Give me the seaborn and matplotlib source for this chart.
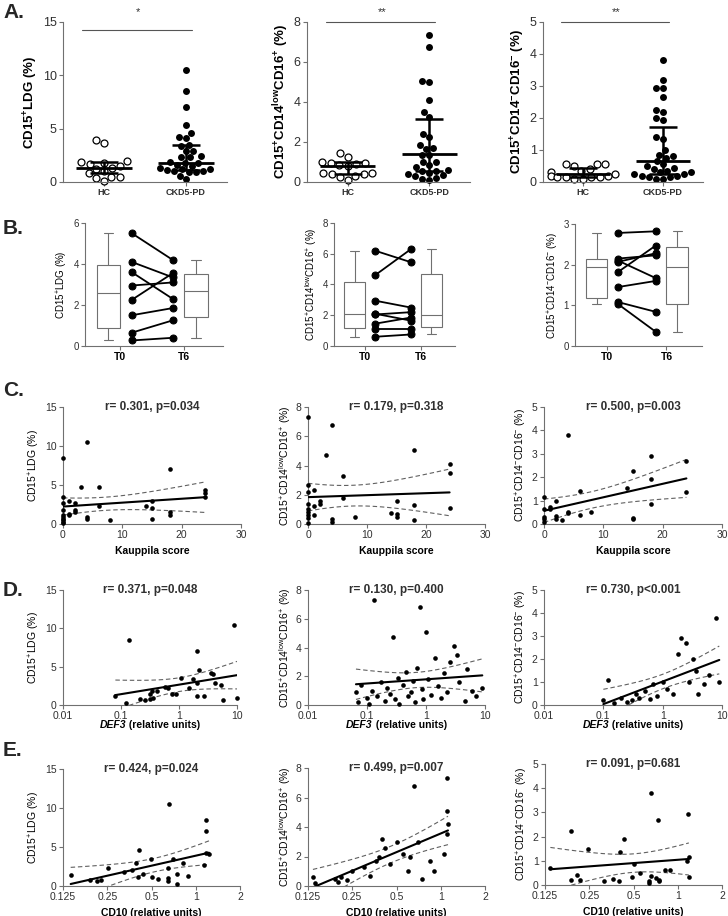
import numpy as np
import pandas as pd
import matplotlib
matplotlib.use("Agg")
import matplotlib.pyplot as plt
import seaborn as sns
from matplotlib import font_manager

sns.set_theme(style="ticks")
fam = "Liberation Sans"
try:
    font_manager.findfont("Liberation Sans Narrow", fallback_to_default=False)
    fam = "Liberation Sans Narrow"
except Exception:
    pass
plt.rcParams["font.family"] = [fam, "DejaVu Sans"]
plt.rcParams["mathtext.fontset"] = "custom"
plt.rcParams["mathtext.rm"] = fam
plt.rcParams["mathtext.bf"] = fam + ":bold"

# ---------------- data ----------------
# A: HC vs CKD5-PD
a_ldg_hc = [3.9, 3.7, 2.0, 1.9, 1.8, 1.7, 1.5, 1.3, 1.2, 1.0, 0.8, 0.5, 0.5, 0.4, 0.1]
a_ldg_ckd = [10.5, 8.5, 7.0, 5.3, 4.6, 4.2, 4.1, 3.5, 3.4, 2.9, 2.9, 2.4, 2.3, 2.3, 1.9, 1.8,
             1.8, 1.6, 1.5, 1.3, 1.2, 1.2, 1.1, 1.0, 1.0, 0.9, 0.9, 0.6, 0.3]
a_low_hc = [1.45, 1.25, 1.0, 0.95, 0.95, 0.9, 0.85, 0.8, 0.45, 0.45, 0.42, 0.4, 0.3, 0.25, 0.1]
a_low_ckd = [7.35, 6.75, 5.05, 5.0, 4.1, 3.5, 3.25, 2.4, 2.25, 1.85, 1.7, 1.65, 1.35, 1.35, 1.0,
             1.0, 0.85, 0.75, 0.6, 0.55, 0.55, 0.45, 0.4, 0.35, 0.3, 0.2, 0.15, 0.1]
a_neg_hc = [0.55, 0.55, 0.55, 0.5, 0.4, 0.35, 0.3, 0.25, 0.2, 0.2, 0.15, 0.15, 0.15, 0.1, 0.1, 0.15]
a_neg_ckd = [3.8, 3.2, 2.95, 2.95, 2.67, 2.25, 2.2, 2.0, 1.95, 1.4, 1.35, 1.0, 0.85, 0.8, 0.75,
             0.65, 0.55, 0.5, 0.45, 0.4, 0.35, 0.3, 0.3, 0.25, 0.25, 0.2, 0.2, 0.15, 0.15, 0.1, 0.1]
# median, q1, q3 per group (HC, CKD5-PD)
a_ldg_stats = [(1.3, 0.8, 1.9), (1.8, 1.1, 3.5)]
a_low_stats = [(0.82, 0.42, 0.98), (1.4, 0.55, 3.15)]
a_neg_stats = [(0.25, 0.15, 0.45), (0.65, 0.25, 1.72)]
a_signif = ["*", "**", "**"]

# B: paired T0 / T6
b_ldg_t0 = [5.5, 4.1, 3.6, 2.95, 2.25, 1.5, 0.65, 0.27]
b_ldg_t6 = [4.2, 3.35, 2.3, 3.1, 3.55, 1.85, 1.25, 0.4]
b_low_t0 = [6.2, 4.6, 2.95, 2.1, 2.05, 1.45, 1.1, 0.6]
b_low_t6 = [5.45, 6.3, 2.5, 1.65, 2.2, 1.85, 1.1, 0.75]
b_neg_t0 = [2.78, 2.15, 2.1, 2.07, 1.82, 1.45, 1.08, 1.03]
b_neg_t6 = [2.82, 2.23, 1.67, 2.28, 2.47, 1.6, 0.84, 0.35]

# C: Kauppila score
c_ldg_x = [0, 0, 0, 0, 0, 0, 0, 0, 0, 0, 1, 1, 1, 2, 2, 2, 3, 4, 4, 4, 6, 6, 8, 14, 15, 15, 15, 18, 18, 18, 24, 24, 24]
c_ldg_y = [8.5, 3.4, 2.7, 1.8, 1.1, 0.9, 0.7, 0.5, 0.3, 0.1, 2.9, 1.3, 1.2, 2.7, 1.8, 1.6, 4.8, 10.5, 0.9, 0.6,
           4.7, 2.3, 0.5, 2.3, 2.9, 2.1, 0.7, 7.0, 1.5, 1.2, 4.3, 4.0, 3.5]
c_low_x = [0, 0, 0, 0, 0, 0, 0, 0, 0, 1, 1, 1, 2, 2, 3, 4, 4, 4, 6, 6, 8, 14, 15, 15, 15, 18, 18, 18, 24, 24, 24]
c_low_y = [7.3, 2.65, 2.2, 1.4, 1.0, 0.85, 0.6, 0.4, 0.1, 2.35, 1.2, 0.6, 1.6, 1.35, 4.75, 6.75, 0.35, 0.15,
           3.25, 1.8, 0.5, 0.75, 1.6, 0.65, 0.5, 5.05, 1.3, 0.3, 4.1, 3.5, 1.1]
c_neg_x = [0, 0, 0, 0, 0, 1, 1, 2, 2, 2, 3, 4, 4, 4, 6, 6, 8, 14, 15, 15, 15, 18, 18, 18, 24, 24]
c_neg_y = [1.15, 0.65, 0.3, 0.2, 0.1, 0.72, 0.62, 1.0, 0.35, 0.2, 0.15, 3.8, 0.5, 0.45, 1.4, 0.4, 0.52,
           1.52, 2.25, 0.25, 0.2, 2.92, 1.92, 0.85, 2.68, 1.35]

# D: DEF3 relative units
d_ldg_x = [0.08, 0.124, 0.137, 0.213, 0.263, 0.316, 0.32, 0.347, 0.36, 0.42, 0.58, 0.645, 0.76, 0.9, 1.1,
           1.47, 1.74, 2.04, 2.04, 2.04, 2.18, 2.7, 3.56, 3.8, 4.2, 5.2, 5.75, 8.9, 10.0]
d_ldg_y = [1.2, 0.2, 8.5, 0.8, 0.6, 1.5, 0.75, 1.8, 0.95, 1.8, 2.3, 2.2, 1.4, 1.5, 3.5,
           2.25, 3.4, 7.0, 2.9, 1.2, 4.6, 1.2, 4.2, 4.1, 2.9, 2.6, 0.6, 10.5, 0.9]
d_low_x = [0.065, 0.07, 0.08, 0.1, 0.11, 0.12, 0.13, 0.15, 0.17, 0.2, 0.22, 0.25, 0.28, 0.3, 0.33, 0.35,
           0.4, 0.45, 0.5, 0.55, 0.6, 0.65, 0.7, 0.8, 0.85, 0.9, 1.0, 1.1, 1.2, 1.4, 1.6, 1.8, 2.0, 2.3,
           2.6, 3.0, 3.3, 3.6, 4.5, 5.0, 6.0, 7.0, 9.0]
d_low_y = [0.9, 0.2, 1.4, 0.5, 0.1, 1.0, 7.3, 0.6, 1.6, 0.3, 1.2, 0.8, 4.7, 0.4, 1.9, 0.1,
           1.4, 2.3, 0.6, 0.9, 1.7, 0.2, 2.6, 6.8, 1.1, 0.4, 5.1, 1.8, 0.7, 3.3, 1.3, 0.5, 2.2, 0.9,
           3.0, 4.1, 3.5, 1.6, 0.3, 2.5, 1.0, 0.6, 1.2]
d_neg_x = [0.1, 0.12, 0.15, 0.2, 0.25, 0.3, 0.35, 0.4, 0.5, 0.6, 0.7, 0.8, 1.0, 1.2, 1.5, 1.8, 2.0,
           2.5, 2.8, 3.3, 3.6, 4.0, 5.0, 6.0, 8.0, 9.0]
d_neg_y = [0.2, 1.1, 0.1, 0.3, 0.15, 0.2, 0.5, 0.3, 0.6, 0.25, 0.9, 0.4, 1.0, 0.7, 0.5, 2.2, 2.9,
           2.7, 1.0, 2.0, 1.5, 0.5, 0.9, 1.3, 3.8, 1.0]

# E: CD10 relative units
e_ldg_x = [0.141, 0.192, 0.212, 0.225, 0.254, 0.325, 0.366, 0.392, 0.403, 0.414, 0.436, 0.495, 0.505,
           0.555, 0.657, 0.646, 0.646, 0.646, 0.70, 0.75, 0.75, 0.815, 0.88, 1.13, 1.18, 1.18, 1.18, 1.23]
e_ldg_y = [1.35, 0.75, 0.6, 0.8, 2.3, 1.8, 2.1, 2.9, 1.2, 4.6, 1.5, 3.5, 1.2,
           0.9, 10.5, 2.3, 1.0, 0.6, 3.4, 1.6, 0.2, 2.9, 1.25, 2.7, 8.5, 7.0, 4.2, 4.1]
e_low_x = [0.135, 0.14, 0.19, 0.2, 0.21, 0.23, 0.25, 0.3, 0.33, 0.36, 0.38, 0.4, 0.42, 0.45, 0.5,
           0.55, 0.6, 0.62, 0.66, 0.7, 0.75, 0.85, 0.9, 1.05, 1.1, 1.1, 1.1, 1.12]
e_low_y = [0.6, 0.2, 0.5, 0.3, 0.6, 0.4, 1.0, 1.3, 0.7, 1.7, 2.0, 3.2, 2.6, 1.5, 3.0,
           2.2, 1.0, 2.0, 6.8, 3.0, 0.5, 1.7, 1.0, 2.2, 7.3, 5.1, 3.5, 4.2]
e_neg_x = [0.136, 0.187, 0.187, 0.206, 0.217, 0.247, 0.317, 0.36, 0.406, 0.40, 0.43, 0.487, 0.50, 0.552,
           0.636, 0.636, 0.657, 0.657, 0.707, 0.737, 0.745, 0.745, 0.82, 0.886, 1.15, 1.18, 1.19, 1.19]
e_neg_y = [0.72, 2.25, 0.2, 0.42, 0.22, 1.5, 0.18, 0.26, 1.38, 0.18, 1.9, 0.35, 0.88, 0.5,
           0.15, 0.1, 3.8, 0.38, 0.28, 2.67, 0.2, 0.15, 0.63, 0.64, 1.0, 2.93, 1.15, 0.35]

stats_text_c = ["r= 0.301, p=0.034", "r= 0.179, p=0.318", "r= 0.500, p=0.003"]
stats_text_d = ["r= 0.371, p=0.048", "r= 0.130, p=0.400", "r= 0.730, p<0.001"]
stats_text_e = ["r= 0.424, p=0.024", "r= 0.499, p=0.007", "r= 0.091, p=0.681"]

ylab_bold = [r"CD15$^{\mathbf{+}}$LDG (%)",
             r"CD15$^{\mathbf{+}}$CD14$^{\mathbf{low}}$CD16$^{\mathbf{+}}$ (%)",
             r"CD15$^{\mathbf{+}}$CD14$^{\mathbf{-}}$CD16$^{\mathbf{-}}$ (%)"]
ylab = [r"CD15$^{+}$LDG (%)",
        r"CD15$^{+}$CD14$^{\mathrm{low}}$CD16$^{+}$ (%)",
        r"CD15$^{+}$CD14$^{-}$CD16$^{-}$ (%)"]
ytop = [15, 8, 5]
yticks_list = [[0, 5, 10, 15], [0, 2, 4, 6, 8], [0, 1, 2, 3, 4, 5]]
b_top = [6, 8, 3]
b_ticks = [[0, 2, 4, 6], [0, 2, 4, 6, 8], [0, 1, 2, 3]]

# ---------------- figure ----------------
W, H = 728, 916
fig = plt.figure(figsize=(W / 100, H / 100), dpi=100)
SPINE = "#707070"
TXT = "#303030"
split_labels = []


def px_axes(x0, y0, x1, y1):
    return fig.add_axes([x0 / W, 1 - y1 / H, (x1 - x0) / W, (y1 - y0) / H])


def style(ax, fs=7.5):
    sns.despine(ax=ax)
    for s in ("left", "bottom"):
        ax.spines[s].set_color(SPINE)
        ax.spines[s].set_linewidth(0.8)
    ax.tick_params(colors=SPINE, labelcolor=TXT, length=3, width=0.8, labelsize=fs, pad=1.5)


# Row A
a_pos = [(63, 22, 227, 182), (307, 22, 470, 182), (543, 22, 703, 182)]
a_groups = [(a_ldg_hc, a_ldg_ckd, a_ldg_stats), (a_low_hc, a_low_ckd, a_low_stats),
            (a_neg_hc, a_neg_ckd, a_neg_stats)]
for i, (hc, ckd, st) in enumerate(a_groups):
    ax = px_axes(*a_pos[i])
    df = pd.DataFrame({"grp": ["HC"] * len(hc) + ["CKD5-PD"] * len(ckd), "val": hc + ckd})
    sns.swarmplot(data=df, x="grp", y="val", order=["HC", "CKD5-PD"], ax=ax, size=5,
                  color="black", linewidth=0, zorder=2, clip_on=False)
    ax.collections[0].set_facecolor("white")
    ax.collections[0].set_edgecolor("black")
    ax.collections[0].set_linewidth(0.9)
    for g, (med, q1, q3) in enumerate(st):
        ax.hlines(med, g - 0.34, g + 0.34, color="black", lw=2, zorder=3)
        ax.vlines(g, q1, q3, color="black", lw=1.8, zorder=3)
        ax.hlines([q1, q3], g - 0.17, g + 0.17, color="black", lw=1.8, zorder=3)
    ax.set_xlim(-0.5, 1.5)
    ax.set_ylim(0, ytop[i])
    ax.set_yticks(yticks_list[i])
    ax.set_xlabel("")
    ax.set_ylabel(ylab_bold[i], fontsize=9.5, fontweight="bold", color="black", labelpad=2)
    style(ax, fs=9)
    ax.set_xticks([0, 1])
    ax.set_xticklabels(["HC", "CKD5-PD"], fontsize=6.5, fontweight="bold")
    ax.plot([-0.27, 1.07], [ytop[i] * 0.95 if i == 0 else ytop[i]] * 2, color="#555555", lw=0.8,
            clip_on=False)
    ax.text(0.42, 1.06, a_signif[i], transform=ax.get_xaxis_transform(), ha="center", va="center",
            fontsize=8, color=TXT)

# Row B
b_pos = [(85, 223, 223, 346), (334, 223, 455, 346), (575, 224, 702, 346)]
b_pairs = [(b_ldg_t0, b_ldg_t6), (b_low_t0, b_low_t6), (b_neg_t0, b_neg_t6)]
for i, (t0, t6) in enumerate(b_pairs):
    ax = px_axes(*b_pos[i])
    bstats = []
    for vals in (t0, t6):
        q1, med, q3 = np.percentile(vals, [25, 50, 75], method="weibull")
        bstats.append(dict(med=med, q1=q1, q3=q3, whislo=min(vals), whishi=max(vals), fliers=[]))
    ax.bxp(bstats, positions=[0.0, 3.75], widths=1.0, showfliers=False, patch_artist=True,
           boxprops=dict(facecolor="white", edgecolor="#707070", lw=0.8),
           medianprops=dict(color="#707070", lw=0.8),
           whiskerprops=dict(color="#707070", lw=0.8),
           capprops=dict(color="#707070", lw=0.8), capwidths=0.4)
    pid = list(range(len(t0)))
    df = pd.DataFrame({"pid": pid + pid, "pos": [1.0] * len(t0) + [2.75] * len(t6), "val": t0 + t6})
    sns.lineplot(data=df, x="pos", y="val", units="pid", estimator=None, ax=ax, color="black",
                 lw=1.3, marker="o", markersize=5, markeredgecolor="black")
    ax.set_xlim(-1.0, 4.9)
    ax.set_ylim(0, b_top[i])
    ax.set_yticks(b_ticks[i])
    style(ax, fs=7)
    ax.set_xticks([0.5, 3.25])
    ax.set_xticklabels(["T0", "T6"], fontsize=7.5, fontweight="bold", color="black")
    ax.set_xlabel("")
    ax.set_ylabel(ylab[i], fontsize=7, color="black", labelpad=2)


def t_crit(df):
    return 1.96 + 2.4 / df


def reg_panel(ax, x, y, kind, title, ylabel, top, ticks):
    x = np.asarray(x, float)
    y = np.asarray(y, float)
    if kind == "log10":
        tx = np.log10(x)
    elif kind == "log2":
        tx = np.log2(x)
    else:
        tx = x
    sns.scatterplot(x=x, y=y, ax=ax, color="black", s=11, linewidth=0, zorder=3, clip_on=False)
    b, a = np.polyfit(tx, y, 1)
    n = len(x)
    resid = y - (a + b * tx)
    s = np.sqrt(np.sum(resid ** 2) / (n - 2))
    sxx = np.sum((tx - tx.mean()) ** 2)
    gx = np.linspace(tx.min(), tx.max(), 100)
    fit = a + b * gx
    half = t_crit(n - 2) * s * np.sqrt(1 / n + (gx - tx.mean()) ** 2 / sxx)
    if kind == "log10":
        px = 10 ** gx
    elif kind == "log2":
        px = 2 ** gx
    else:
        px = gx
    sns.lineplot(x=px, y=fit, ax=ax, color="black", lw=1.5, zorder=4)
    ax.plot(px, fit + half, color="#606060", lw=0.8, ls=(0, (4, 2.5)), zorder=2)
    ax.plot(px, fit - half, color="#606060", lw=0.8, ls=(0, (4, 2.5)), zorder=2)
    if kind == "log10":
        ax.set_xscale("log")
        ax.set_xlim(0.01, 10)
        ax.set_xticks([0.01, 0.1, 1, 10])
        ax.set_xticklabels(["0.01", "0.1", "1", "10"])
        ax.minorticks_off()
        ax.set_xlabel("")
        t1 = ax.text(0.5, -0.175, "DEF3", transform=ax.transAxes, ha="left", va="center",
                     fontsize=7.5, fontweight="bold", style="italic", color="black")
        t2 = ax.annotate(" (relative units)", xy=(1, 0), xycoords=t1, ha="left", va="bottom",
                         fontsize=7.5, fontweight="bold", color="black")
        split_labels.append((ax, t1, t2))
    elif kind == "log2":
        ax.set_xscale("log", base=2)
        ax.set_xlim(0.125, 2)
        ax.set_xticks([0.125, 0.25, 0.5, 1, 2])
        ax.set_xticklabels(["0.125", "0.25", "0.5", "1", "2"])
        ax.minorticks_off()
        ax.set_xlabel("CD10 (relative units)", fontsize=7.5, fontweight="bold", color="black",
                      labelpad=4)
    else:
        ax.set_xlim(0, 30)
        ax.set_xticks([0, 10, 20, 30])
        ax.set_xlabel("Kauppila score", fontsize=7.5, fontweight="bold", color="black", labelpad=4)
    ax.set_ylim(0, top)
    ax.set_yticks(ticks)
    ax.set_ylabel(ylabel, fontsize=7.5, color="black", labelpad=2)
    style(ax, fs=7.5)
    ax.text(0.5, 1.0, title, transform=ax.transAxes, ha="center", va="center",
            fontsize=8.5, fontweight="bold", color=TXT)


c_pos = [(63, 407, 241, 524), (308, 407, 485, 524), (544, 407, 722, 524)]
d_pos = [(63, 590, 237, 705), (308, 590, 485, 705), (544, 590, 722, 705)]
e_pos = [(63, 769, 240, 886), (308, 768, 485, 886), (545, 764, 722, 885)]
c_data = [(c_ldg_x, c_ldg_y), (c_low_x, c_low_y), (c_neg_x, c_neg_y)]
d_data = [(d_ldg_x, d_ldg_y), (d_low_x, d_low_y), (d_neg_x, d_neg_y)]
e_data = [(e_ldg_x, e_ldg_y), (e_low_x, e_low_y), (e_neg_x, e_neg_y)]
for i in range(3):
    reg_panel(px_axes(*c_pos[i]), *c_data[i], "lin", stats_text_c[i], ylab[i], ytop[i], yticks_list[i])
    reg_panel(px_axes(*d_pos[i]), *d_data[i], "log10", stats_text_d[i], ylab[i], ytop[i], yticks_list[i])
    reg_panel(px_axes(*e_pos[i]), *e_data[i], "log2", stats_text_e[i], ylab[i], ytop[i], yticks_list[i])

for lab, ypx in (("A.", 12), ("B.", 228), ("C.", 390), ("D.", 591), ("E.", 751)):
    fig.text(3 / W, 1 - ypx / H, lab, fontsize=15, fontweight="bold", va="center", ha="left")

# centre the two-part DEF3 labels under their axes
fig.canvas.draw()
rend = fig.canvas.get_renderer()
for ax, t1, t2 in split_labels:
    total = t1.get_window_extent(rend).width + t2.get_window_extent(rend).width
    t1.set_x(0.5 - total / 2 / ax.bbox.width)

fig.savefig("out.png", dpi=100)
